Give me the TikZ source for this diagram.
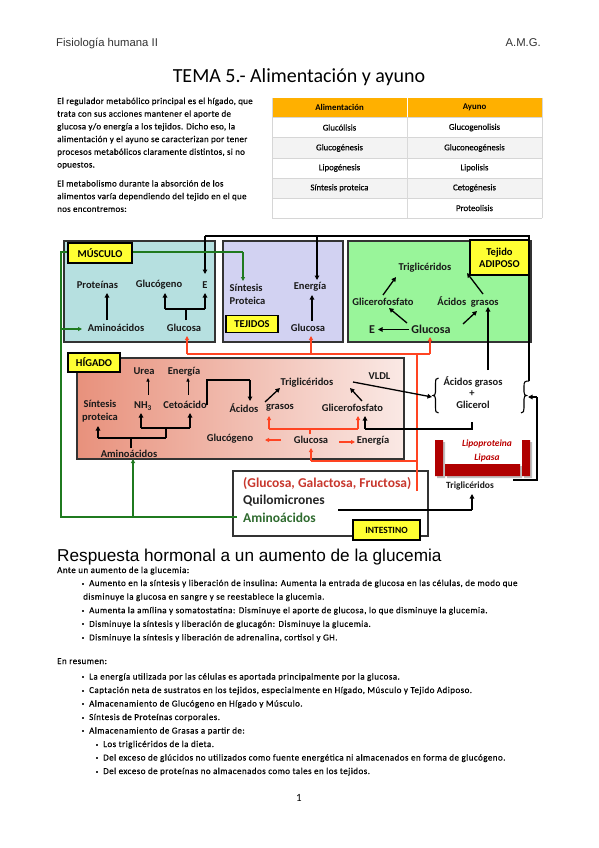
\documentclass[tikz,border=0pt]{standalone}
\usepackage{fontspec}
\setmainfont{Carlito}
\newfontfamily\arialf{Liberation Sans}
\newfontfamily\bodyf[LetterSpace=5,FakeBold=0.3]{Carlito}
\newfontfamily\introf[LetterSpace=3,FakeBold=0.3]{Carlito}
\newfontfamily\tabf[FakeBold=0.3]{Carlito}
\usetikzlibrary{arrows.meta}
\definecolor{orangeH}{HTML}{FFB000}
\definecolor{muscleC}{HTML}{B6E0E0}
\definecolor{tejC}{HTML}{D2D2F2}
\definecolor{adipC}{HTML}{99F59A}
\definecolor{hepL}{HTML}{E8917C}
\definecolor{hepR}{HTML}{FAE9E5}
\definecolor{labY}{HTML}{FFFF33}
\definecolor{redL}{HTML}{FF4422}
\definecolor{intRed}{HTML}{C8372D}
\definecolor{lipRed}{HTML}{B00000}
\definecolor{grnL}{HTML}{1F7A1F}
\definecolor{grnT}{HTML}{2F6B2F}
\definecolor{tabGray}{HTML}{F3F3F3}
\definecolor{tabLine}{HTML}{D6D6D6}
\begin{document}
\begin{tikzpicture}[x=1pt,y=-1pt,
  tx/.style={font=\bfseries\fontsize{10.5}{12}\selectfont, inner sep=0.5pt, text=black!90},
  txb/.style={font=\bfseries\fontsize{12}{13}\selectfont, inner sep=0.5pt, text=black!90},
  itx/.style={font=\bfseries\fontsize{13.5}{15}\selectfont, inner sep=0pt, anchor=west},
  bx/.style={draw=black!80, line width=1.6pt, inner sep=0pt, anchor=north west},
  lab/.style={draw=black, line width=1.2pt, fill=labY, font=\bfseries\fontsize{10.5}{12}\selectfont, inner sep=0pt, align=center},
  ar/.style={-{Triangle[length=4.5pt,width=4.5pt]}, line width=1.3pt},
  tar/.style={-{Triangle[length=3.5pt,width=3pt]}, line width=0.8pt},
  rl/.style={draw=redL, line width=1.2pt},
  rar/.style={rl, -{Triangle[length=4pt,width=4pt]}},
  gl/.style={draw=grnL, line width=1.3pt},
  gar/.style={gl, -{Triangle[length=4pt,width=4pt]}},
  body/.style={anchor=base west, inner sep=0pt, font=\introf\fontsize{9}{10}\selectfont},
  lst/.style={anchor=base west, inner sep=0pt, font=\bodyf\fontsize{9}{10}\selectfont},
  tab/.style={inner sep=0pt, font=\tabf\fontsize{8.8}{10}\selectfont},
  bul/.style={fill=black!80, minimum size=2pt, inner sep=0pt}
]
\useasboundingbox[fill=white] (0,0) rectangle (599,848);

% header
\node[anchor=base west, inner sep=0pt, font=\arialf\fontsize{11.3}{12}\selectfont, text=black!80] (hdrL) at (56,47) {Fisiología humana II};
\node[anchor=base east, inner sep=0pt, font=\arialf\fontsize{11.3}{12}\selectfont, text=black!80] (hdrR) at (541,47) {A.M.G.};
\node[inner sep=0pt, font=\fontsize{20}{22}\selectfont] (title) at (299,77) {TEMA 5.- Alimentación y ayuno};

% intro text
\node[body] (p1) at (57,104) {El regulador metabólico principal es el hígado, que};
\node[body] (p2) at (57,116.7) {trata con sus acciones mantener el aporte de};
\node[body] (p3) at (57,129.4) {glucosa y/o energía a los tejidos. Dicho eso, la};
\node[body] (p4) at (57,142.1) {alimentación y el ayuno se caracterizan por tener};
\node[body] (p5) at (57,154.8) {procesos metabólicos claramente distintos, si no};
\node[body] (p6) at (57,167.5) {opuestos.};
\node[body] (p7) at (57,186.5) {El metabolismo durante la absorción de los};
\node[body] (p8) at (57,199.2) {alimentos varía dependiendo del tejido en el que};
\node[body] (p9) at (57,211.9) {nos encontremos:};

% table
\fill[orangeH] (272,98) rectangle (542,117);
\fill[tabGray] (272,137.5) rectangle (542,158);
\fill[tabGray] (272,178) rectangle (542,198);
\foreach \yy in {117,137.5,158,178,198,218} \draw[tabLine, line width=0.8pt] (272,\yy) -- (542,\yy);
\draw[tabLine, line width=0.8pt] (272,98) -- (272,218) (542,98) -- (542,218);
\draw[white!85!black, line width=0.8pt] (407,117) -- (407,218);
\draw[white, line width=0.8pt] (407,98) -- (407,117);
\node[tab, font=\bfseries\fontsize{8.8}{10}\selectfont] (thA) at (339.5,107.5) {Alimentación};
\node[tab, font=\bfseries\fontsize{8.8}{10}\selectfont] (thB) at (474.5,107.5) {Ayuno};
\node[tab] (tA1) at (339.5,127.5) {Glucólisis};
\node[tab] (tB1) at (474.5,127.5) {Glucogenolisis};
\node[tab] (tA2) at (339.5,148) {Glucogénesis};
\node[tab] (tB2) at (474.5,148) {Gluconeogénesis};
\node[tab] (tA3) at (339.5,168) {Lipogénesis};
\node[tab] (tB3) at (474.5,168) {Lipolisis};
\node[tab] (tA4) at (339.5,188) {Síntesis proteica};
\node[tab] (tB4) at (474.5,188) {Cetogénesis};
\node[tab] (tB5) at (474.5,208) {Proteolisis};

% ================= DIAGRAM =================
% boxes
\node[bx, fill=muscleC, minimum width=151pt, minimum height=101pt] (muscle) at (63,240) {};
\node[bx, fill=tejC, minimum width=120pt, minimum height=101pt] (tejidos) at (222,240) {};
\node[bx, fill=adipC, minimum width=183pt, minimum height=101pt] (adipose) at (347,240) {};
\node[bx, left color=hepL, right color=hepR, minimum width=327pt, minimum height=101pt] (higado) at (76,357) {};
\node[bx, fill=white, minimum width=195pt, minimum height=65pt] (intest) at (232,470) {};

% top black connection from right bracket to E's
\coordinate (topR) at (529,236);
\coordinate (topL) at (205,236);
\draw[line width=1.3pt] (529,381) -- (topR) -- (topL);
\draw[ar] (topL) -- (205,274);
\draw[ar] (317,236) -- (317,280);

% green paths
\coordinate (gA) at (61,517);
\coordinate (gB) at (61,252);
\draw[gl] (237,517) -- (gA) -- (gB) -- (243,252);
\draw[gar] (243,252) -- (243,281);
\draw[gar] (61,329) -- (82,329);
\draw[gar] (133,517) -- (133,459);

% red glucose paths
\draw[rl] (187,354) -- (430,354);
\draw[rar] (187,354) -- (187,336);
\draw[rar] (311,354) -- (311,336);
\draw[rar] (430,354) -- (430,337);
\draw[rl] (417,491) -- (417,354);
\draw[rl] (417,461) -- (311,461);
\draw[rar] (311,461) -- (311,448);
% red inside liver
\draw[rl] (310,434) -- (310,429);
\draw[rl] (269,429) -- (358,429);
\draw[rar] (269,429) -- (269,416);
\draw[rar] (358,429) -- (358,416);
\draw[rar] (281,440) -- (265,440);
\draw[rar] (339,442) -- (355,442);

% labels
\node[lab, minimum width=64pt, minimum height=20pt] (mLab) at (100,253) {MÚSCULO};
\node[lab, minimum width=52pt, minimum height=17pt] (tLab) at (252,324) {TEJIDOS};
\node[lab, minimum width=59pt, minimum height=35pt, font=\bfseries\fontsize{10.5}{12}\selectfont] (aLab) at (499.5,257.5) {Tejido\\ADIPOSO};
\node[lab, minimum width=52pt, minimum height=19pt] (hLab) at (94,362.5) {HÍGADO};
\node[lab, minimum width=67pt, minimum height=20pt, font=\bfseries\fontsize{9.5}{11}\selectfont] (iLab) at (386.5,530) {INTESTINO};

% muscle content
\node[tx] (mProt) at (97.5,285) {Proteínas};
\node[tx] (mGlg) at (159,285) {Glucógeno};
\node[tx] (mE) at (205,285) {E};
\node[tx] (mAmi) at (116,328) {Aminoácidos};
\node[tx] (mGlu) at (184,328) {Glucosa};
\draw[ar] (107,320) -- (107,293);
\draw[line width=1.3pt] (186,320) -- (186,309);
\draw[line width=1.3pt] (165,309) -- (205,309);
\draw[ar] (165,309) -- (165,293);
\draw[ar] (205,309) -- (205,293);

% tejidos content
\node[tx, align=left, anchor=west] (tSin) at (229,294.5) {Síntesis\\[1pt]Proteica};
\node[tx] (tEne) at (310,287) {Energía};
\node[tx] (tGlu) at (308,328) {Glucosa};
\draw[ar] (312,321) -- (312,295);

% adipose content
\node[tx] (aTri) at (425,268) {Triglicéridos};
\node[tx] (aGlf) at (383,302) {Glicerofosfato};
\node[tx] (aAG) at (468,302) {Ácidos~~grasos};
\node[txb] (aE) at (372,330) {E};
\node[txb] (aGlu) at (431,329) {Glucosa};
\draw[ar] (383,295) -- (396,277);
\draw[ar] (407,323) -- (389,308);
\draw[ar] (409,329.5) -- (378,329.5);
\draw[ar] (463,324) -- (477,311);
\draw[ar] (483,294) -- (467,273);
\draw[ar] (488,370) -- (488,307);

% liver content
\node[tx] (hUrea) at (144,371) {Urea};
\node[tx] (hEne) at (184,372) {Energía};
\node[tx, align=center] (hSin) at (100,411) {Síntesis\\[1pt]proteica};
\node[tx] (hNH) at (143,406) {NH\textsubscript{3}};
\node[tx] (hCet) at (185,405) {Cetoácido};
\node[tx] (hAci) at (244,408) {Ácidos};
\node[tx] (hGra) at (280,408) {grasos};
\node[tx] (hTri) at (307,383) {Triglicéridos};
\node[tx] (hGlf) at (352.5,408) {Glicerofosfato};
\node[tx] (hVLDL) at (379.5,376) {VLDL};
\node[tx] (hGlg) at (230,439) {Glucógeno};
\node[tx] (hGlu) at (311,440) {Glucosa};
\node[tx] (hEner) at (373,441) {Energía};
\node[tx] (hAmi) at (129,454) {Aminoácidos};
\draw[line width=1.3pt] (131,448) -- (131,438);
\draw[line width=1.3pt] (98,438) -- (166,438);
\draw[ar] (98,438) -- (98,426);
\draw[line width=1.3pt] (166,438) -- (166,428);
\draw[line width=1.3pt] (141,428) -- (190,428);
\draw[ar] (141,428) -- (141,413);
\draw[ar] (190,428) -- (190,413);
\draw[tar] (148,395) -- (148,378);
\draw[tar] (188,395) -- (188,378);
\draw[line width=1.3pt] (207,405) -- (207,380) -- (250,380);
\draw[ar] (250,380) -- (250,401);
\draw[ar] (265,402) -- (280,388);
\draw[ar] (362,401) -- (350,388);
\draw[ar] (353,382) -- (432,397);

% fatty acids + glycerol
\node[tx] (fAG) at (473,382) {Ácidos grasos};
\node[tx] (fPlus) at (472,394) {+};
\node[tx] (fGly) at (473,405) {Glicerol};
\draw[line width=1.1pt] (438.5,378) .. controls (435.5,378) and (435.5,380) .. (435.5,383) -- (435.5,392) .. controls (435.5,394.5) and (434.5,395.5) .. (433,395.5) .. controls (434.5,395.5) and (435.5,396.5) .. (435.5,399) -- (435.5,408) .. controls (435.5,411) and (435.5,413) .. (438.5,413);
\draw[line width=1.1pt] (529,381) .. controls (524.5,381) and (524,382) .. (524,386) -- (524,392) .. controls (524,394.5) and (525,395.5) .. (526.5,395.5) .. controls (525,395.5) and (524,396.5) .. (524,399) -- (524,408) .. controls (524,411) and (523.5,413) .. (521,413);
\draw[line width=1.3pt] (472,422) -- (472,429) -- (365,429);
\draw[ar] (365,429) -- (365,416);

% lipase
\fill[black!25] (437,442) rectangle (445,478) (524,442) rectangle (532,478) (447,466) rectangle (522,478);
\fill[lipRed] (435,440) rectangle (443,476) (522,440) rectangle (530,476) (445,464) rectangle (520,476);
\node[inner sep=0pt, text=lipRed!85!red, font=\bfseries\itshape\fontsize{9.5}{11}\selectfont] (lip1) at (487,444) {Lipoproteina};
\node[inner sep=0pt, text=lipRed!85!red, font=\bfseries\itshape\fontsize{9.5}{11}\selectfont] (lip2) at (487,458) {Lipasa};
\node[tx, font=\bfseries\fontsize{9.5}{11}\selectfont] (lTri) at (470,486) {Triglicéridos};
\draw[line width=1.3pt] (513,480) -- (537,480) -- (537,397);
\draw[ar] (537,397) -- (528,397);

% intestine content
\node[itx, text=intRed] (iSug) at (243,484) {(Glucosa, Galactosa, Fructosa)};
\node[itx, text=black!85] (iQui) at (243,501) {Quilomicrones};
\node[itx, text=grnT] (iAmi) at (243,517.5) {Aminoácidos};
\draw[line width=1.3pt] (338,510) -- (472,510);
\draw[ar] (472,510) -- (472,494);

% ================= lower text =================
\node[anchor=base west, inner sep=0pt, font=\arialf\fontsize{17.2}{18}\selectfont] (h2) at (57,561) {Respuesta hormonal a un aumento de la glucemia};
\node[lst] (q0) at (57,573) {Ante un aumento de la glucemia:};
\node[bul] at (83,583.5) {};
\node[lst] (q1) at (89,586) {Aumento en la síntesis y liberación de insulina: Aumenta la entrada de glucosa en las células, de modo que};
\node[lst] (q1b) at (83,599.6) {disminuye la glucosa en sangre y se reestablece la glucemia.};
\node[bul] at (83,610.7) {};
\node[lst] (q2) at (89,613.2) {Aumenta la amílina y somatostatina: Disminuye el aporte de glucosa, lo que disminuye la glucemia.};
\node[bul] at (83,624.3) {};
\node[lst] (q3) at (89,626.8) {Disminuye la síntesis y liberación de glucagón: Disminuye la glucemia.};
\node[bul] at (83,637.9) {};
\node[lst] (q4) at (89,640.4) {Disminuye la síntesis y liberación de adrenalina, cortisol y GH.};

\node[lst] (r0) at (57,664) {En resumen:};
\node[bul] at (83,677) {};
\node[lst] (r1) at (89,679.5) {La energía utilizada por las células es aportada principalmente por la glucosa.};
\node[bul] at (83,690.5) {};
\node[lst] (r2) at (89,693) {Captación neta de sustratos en los tejidos, especialmente en Hígado, Músculo y Tejido Adiposo.};
\node[bul] at (83,704) {};
\node[lst] (r3) at (89,706.5) {Almacenamiento de Glucógeno en Hígado y Músculo.};
\node[bul] at (83,717.5) {};
\node[lst] (r4) at (89,720) {Síntesis de Proteínas corporales.};
\node[bul] at (83,731) {};
\node[lst] (r5) at (89,733.5) {Almacenamiento de Grasas a partir de:};
\node[bul] at (97,744.5) {};
\node[lst] (s1) at (103,747) {Los triglicéridos de la dieta.};
\node[bul] at (97,758) {};
\node[lst] (s2) at (103,760.5) {Del exceso de glúcidos no utilizados como fuente energética ni almacenados en forma de glucógeno.};
\node[bul] at (97,771.5) {};
\node[lst] (s3) at (103,774) {Del exceso de proteínas no almacenados como tales en los tejidos.};

\node[inner sep=0pt, font=\fontsize{11}{12}\selectfont] (pg) at (299,798) {1};
\end{tikzpicture}
\end{document}
